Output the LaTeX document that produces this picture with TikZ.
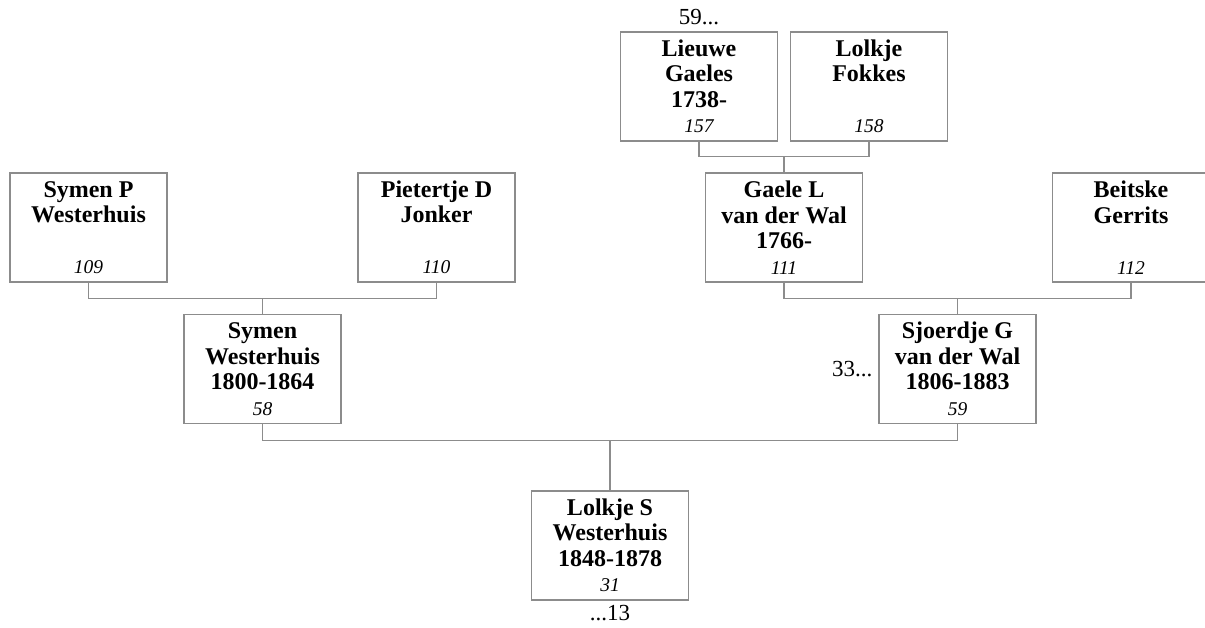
\documentclass[tikz,border=0pt]{standalone}
\usepackage{fontspec}
\setmainfont{Liberation Serif}
\usetikzlibrary{positioning,calc}
\definecolor{boxline}{HTML}{8C8C8C}
\newcommand{\refno}[1]{{\mdseries\itshape\fontsize{19.5}{25.5}\selectfont #1}}

\begin{document}
\begin{tikzpicture}[x=1pt, y=-1pt,
  person/.style={draw=boxline, line width=1.1pt, fill=white, minimum width=157pt, minimum height=109pt, inner sep=0pt, align=center, font=\fontsize{24}{25.5}\selectfont\bfseries},
  link/.style={draw=boxline, line width=1.1pt},
  more/.style={inner sep=0pt, font=\fontsize{23}{25.5}\selectfont},
]
  \useasboundingbox (0,0) rectangle (1205,628);

  % great-grandparents
  \node[person] (lieuwe) at (699,86.5) {Lieuwe\\Gaeles\\1738-\\\refno{157}};
  \node[person] (lolkjef) at (869,86.5) {Lolkje\\Fokkes\\\mbox{}\\\refno{158}};

  % grandparents
  \node[person] (symenp) at (88.5,227.5) {Symen P\\Westerhuis\\\mbox{}\\\refno{109}};
  \node[person] (pietertje) at (436.5,227.5) {Pietertje D\\Jonker\\\mbox{}\\\refno{110}};
  \node[person] (gaele) at (784,227.5) {Gaele L\\van der Wal\\1766-\\\refno{111}};
  \node[person] (beitske) at (1131,227.5) {Beitske\\Gerrits\\\mbox{}\\\refno{112}};

  % parents
  \node[person] (symen) at (262.5,369) {Symen\\Westerhuis\\1800-1864\\\refno{58}};
  \node[person] (sjoerdje) at (957.5,369) {Sjoerdje G\\van der Wal\\1806-1883\\\refno{59}};

  % child
  \node[person] (lolkjes) at (610,545.5) {Lolkje S\\Westerhuis\\1848-1878\\\refno{31}};

  \node[more, above=6pt of lieuwe] (lieuwemore) {59...};
  \node[more, left=6pt of sjoerdje] (sjoerdjemore) {33...};
  \node[more, below=5pt of lolkjes] (lolkjesmore) {...13};

  \draw[link] (lieuwe.south) -- ++(0,15) -| (lolkjef.south);
  \draw[link] ($(lieuwe.south)!.5!(lolkjef.south)+(0,15)$) -- (gaele.north);
  \draw[link] (symenp.south) -- ++(0,16) -| (pietertje.south);
  \draw[link] ($(symenp.south)!.5!(pietertje.south)+(0,16)$) -- (symen.north);
  \draw[link] (gaele.south) -- ++(0,16) -| (beitske.south);
  \draw[link] ($(gaele.south)!.5!(beitske.south)+(0,16)$) -- (sjoerdje.north);
  \draw[link] (symen.south) -- ++(0,16) -| (sjoerdje.south);
  \draw[link] ($(symen.south)!.5!(sjoerdje.south)+(0,16)$) -- (lolkjes.north);
\end{tikzpicture}
\end{document}
